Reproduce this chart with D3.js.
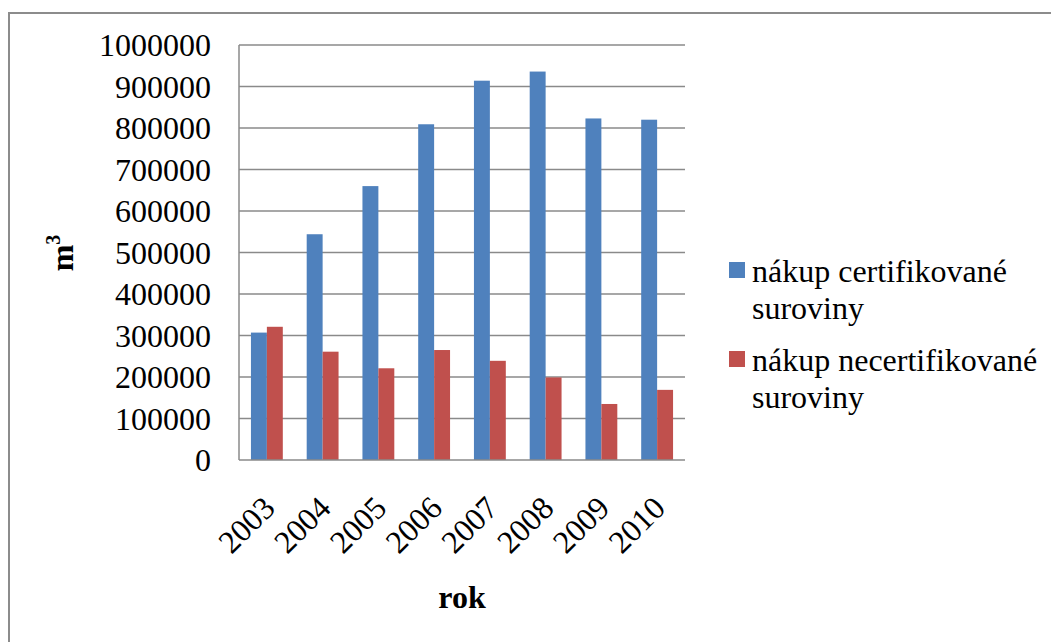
<!DOCTYPE html>
<html><head><meta charset="utf-8">
<script src="https://cdn.jsdelivr.net/npm/d3@7"></script>
<style>html,body{margin:0;padding:0;background:#fff;}svg{display:block;}</style>
</head><body>
<svg id="c" width="1051" height="642"></svg>
<script>
const categories = ["2003","2004","2005","2006","2007","2008","2009","2010"];
const certified = [307000, 544000, 660000, 809000, 914000, 936000, 823000, 820000];
const uncertified = [321000, 261000, 221000, 265000, 239000, 199000, 135000, 169000];
const seriesNames = [["nákup certifikované","suroviny"],["nákup necertifikované","suroviny"]];
const yTicks = [0,100000,200000,300000,400000,500000,600000,700000,800000,900000,1000000];
const colors = ["#4F81BD","#C0504D"];
const FONT = '"Liberation Serif"';
const FS = "32px";

const svg = d3.select("#c");
// outer frame
svg.append("rect").attr("x",9).attr("y",13).attr("width",1100).attr("height",700)
  .attr("fill","none").attr("stroke","#8c8c8c").attr("stroke-width",2);

const pLeft=239, pRight=685, pTop=45, pBottom=460;
const x = d3.scaleBand().domain(categories).range([pLeft,pRight]).paddingInner(0).paddingOuter(0);
const y = d3.scaleLinear().domain([0,1000000]).range([pBottom,pTop]);

// gridlines
svg.append("g").selectAll("line").data(yTicks.filter(d=>d>0)).join("line")
  .attr("x1",pLeft).attr("x2",pRight).attr("y1",d=>y(d)).attr("y2",d=>y(d))
  .attr("stroke","#8a8a8a").attr("stroke-width",1.5);

// bars
const bw = x.bandwidth()/3.5;
const series=[certified,uncertified];
series.forEach((vals,si)=>{
  svg.append("g").selectAll("rect").data(vals).join("rect")
    .attr("x",(d,i)=>x(categories[i])+x.bandwidth()/2 - bw + si*bw)
    .attr("y",d=>y(d)).attr("width",bw).attr("height",d=>pBottom-y(d))
    .attr("fill",colors[si]);
});

// axes lines
svg.append("line").attr("x1",pLeft).attr("x2",pLeft).attr("y1",pTop).attr("y2",pBottom)
  .attr("stroke","#8a8a8a").attr("stroke-width",1.5);
svg.append("line").attr("x1",pLeft).attr("x2",pRight).attr("y1",pBottom).attr("y2",pBottom)
  .attr("stroke","#8a8a8a").attr("stroke-width",1.5);

// y labels
const yAxis = d3.axisLeft(y).tickValues(yTicks).tickSize(0).tickPadding(0).tickFormat(d3.format("d"));
const ga = svg.append("g").attr("transform",`translate(${211},0)`).call(yAxis);
ga.attr("font-family",null).attr("font-size",null);
ga.select(".domain").remove();
ga.selectAll("text").style("font-family",FONT).style("font-size",FS).attr("fill","#000").attr("dy","0.34em");

// x labels
svg.append("g").selectAll("text").data(categories).join("text")
  .attr("transform",d=>`translate(${x(d)+x.bandwidth()/2-6},${494}) rotate(-45)`)
  .attr("text-anchor","end").attr("dy","0.7em")
  .style("font-family",FONT).style("font-size",FS).attr("fill","#000").text(d=>d);

// axis titles
svg.append("text").attr("x",462).attr("y",608).attr("text-anchor","middle")
  .style("font-family",FONT).style("font-size",FS).style("font-weight","bold").text("rok");
const yt = svg.append("text").attr("transform","translate(73,253) rotate(-90)").attr("text-anchor","middle")
  .style("font-family",FONT).style("font-size",FS).style("font-weight","bold");
yt.append("tspan").text("m");
yt.append("tspan").style("font-size","20px").attr("dy",-13).text("3");

// legend
const lg = svg.append("g");
const rowTops=[262,351];
seriesNames.forEach((lines,i)=>{
  lg.append("rect").attr("x",729).attr("y",rowTops[i]).attr("width",16).attr("height",16).attr("fill",colors[i]);
  lines.forEach((t,j)=>{
    lg.append("text").attr("x",752).attr("y",rowTops[i]+20+j*36.5)
      .style("font-family",FONT).style("font-size",FS).attr("fill","#000").text(t);
  });
});
</script>
</body></html>
